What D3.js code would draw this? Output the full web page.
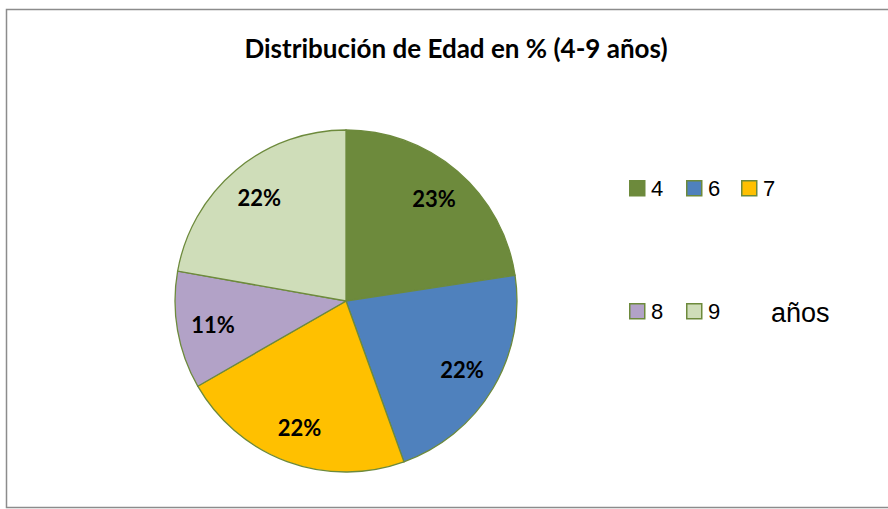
<!DOCTYPE html>
<html>
<head>
<meta charset="utf-8">
<script src="https://cdn.jsdelivr.net/npm/d3@7"></script>
<style>
  body { margin: 0; background: #fff; }
</style>
</head>
<body>
<script>
// data
const ages = ['4', '6', '7', '8', '9'];
const shares = [22.6, 21.9, 22.2, 11.1, 22.2];
const colors = ['#6D8A3C', '#4F81BD', '#FFC000', '#B2A2C7', '#CFDDB9'];
const title = 'Distribución de Edad en % (4-9 años)';
const legendUnit = 'años';

const width = 888;
const height = 509;

const svg = d3.select('body')
  .append('svg')
  .attr('width', width)
  .attr('height', height);

// outer frame
svg.append('rect')
  .attr('x', 6.5)
  .attr('y', 9.5)
  .attr('width', 890)
  .attr('height', 498)
  .style('fill', '#fff')
  .style('stroke', '#8c8c8c')
  .style('stroke-width', 1.5);

// title
svg.append('text')
  .attr('x', 456)
  .attr('y', 58)
  .attr('text-anchor', 'middle')
  .style('font-family', 'Lato, sans-serif')
  .style('font-weight', 'bold')
  .style('font-size', '26px')
  .text(title);

// pie
const radius = 171;
const color = d3.scaleOrdinal().domain(ages).range(colors);
const data = ages.map((a, i) => ({age: a, value: shares[i]}));

const pie = d3.pie().sort(null).value(d => d.value);
const arc = d3.arc().innerRadius(0).outerRadius(radius);
const labelArc = d3.arc().innerRadius(135).outerRadius(135);
const total = d3.sum(shares);

const g = svg.append('g')
  .attr('transform', 'translate(346,301)');

g.selectAll('path')
  .data(pie(data))
  .join('path')
  .attr('d', arc)
  .style('fill', d => color(d.data.age))
  .style('stroke', '#6D8A3C')
  .style('stroke-width', 1.3);

g.selectAll('text')
  .data(pie(data))
  .join('text')
  .attr('transform', d => `translate(${labelArc.centroid(d)})`)
  .attr('text-anchor', 'middle')
  .attr('dy', '0.38em')
  .style('font-family', 'Lato, sans-serif')
  .style('font-weight', 'bold')
  .style('font-size', '22px')
  .text(d => Math.round(d.data.value / total * 100) + '%');

// legend
const legendX = [629, 686, 741, 629, 686];
const legendY = [180, 180, 180, 303, 303];

const legend = svg.append('g')
  .selectAll('g')
  .data(ages)
  .join('g')
  .attr('transform', (d, i) => `translate(${legendX[i]},${legendY[i]})`);

legend.append('rect')
  .attr('x', 0.75)
  .attr('y', 0.75)
  .attr('width', 15)
  .attr('height', 15)
  .style('fill', d => color(d))
  .style('stroke', '#6D8A3C')
  .style('stroke-width', 1.5);

legend.append('text')
  .attr('x', 22)
  .attr('y', 16)
  .style('font-family', 'Liberation Sans, Arial, sans-serif')
  .style('font-size', '22px')
  .text(d => d);

svg.append('text')
  .attr('x', 771)
  .attr('y', 322)
  .style('font-family', 'Liberation Sans, Arial, sans-serif')
  .style('font-size', '27px')
  .text(legendUnit);
</script>
</body>
</html>
